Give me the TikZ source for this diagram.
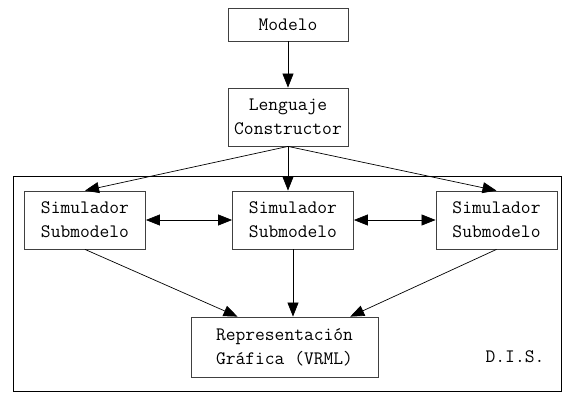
\documentclass[tikz,border=0pt]{standalone}
\usepackage{fontspec}
\usetikzlibrary{arrows.meta,calc}
\tikzset{
    >={Triangle[length=14pt,width=11pt]},
    blk/.style={draw=black!75,line width=0.8pt,align=center,inner sep=0pt,
        font=\ttfamily\fontsize{19}{24}\selectfont},
    lnk/.style={->,line width=0.7pt}
}
\begin{document}
\begin{tikzpicture}[x=1pt,y=-1pt]
        \useasboundingbox (0,0) rectangle (563,392);
        \draw[line width=0.8pt] (13,176) rectangle (561,391);
        \node[blk,minimum width=120pt,minimum height=33pt] (modelo) at (288,24.5) {Modelo};
        \node[blk,minimum width=120pt,minimum height=58pt] (lenguaje) at (288,117) {Lenguaje\\Constructor};
        \foreach \nm/\x in {simA/85,simB/293,simC/496.5}
            \node[blk,minimum width=121pt,minimum height=58pt] (\nm) at (\x,220) {Simulador\\Submodelo};
        \node[blk,minimum width=187pt,minimum height=60pt] (repr) at (284.5,347) {Representación\\Gráfica (VRML)};
        \node[font=\ttfamily\fontsize{19}{24}\selectfont] (dis) at (515,357) {D.I.S.};
        \draw[lnk] (modelo) -- (lenguaje);
        \draw[lnk] (lenguaje.south) -- (simA.north);
        \draw[lnk] (lenguaje.south) -- (lenguaje.south |- simB.north);
        \draw[lnk] (lenguaje.south) -- (simC.north);
        \draw[<->,line width=0.7pt] (simA) -- (simB);
        \draw[<->,line width=0.7pt] (simB) -- (simC);
        \draw[lnk] (simA.south) -- ($(repr.north west)!0.25!(repr.north east)$);
        \draw[lnk] (simB.south) -- (simB.south |- repr.north);
        \draw[lnk] (simC.south) -- ($(repr.north west)!0.85!(repr.north east)$);
    \end{tikzpicture}
\end{document}
